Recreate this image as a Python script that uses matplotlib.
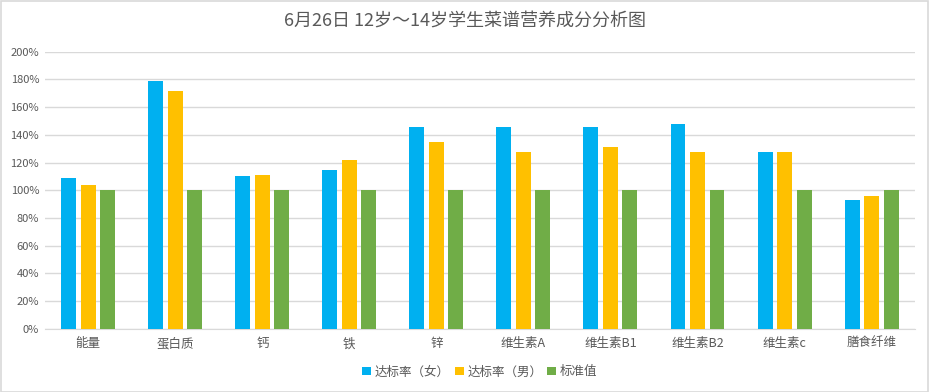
import numpy as np
import matplotlib.pyplot as plt
from matplotlib.patches import Rectangle

plt.rcParams['font.family'] = ['Noto Sans CJK SC', 'DejaVu Sans']

# data (percent of standard)
categories = ['能量', '蛋白质', '钙', '铁', '锌', '维生素A', '维生素B1', '维生素B2', '维生素c', '膳食纤维']
girls = [109, 179, 110, 115, 146, 146, 146, 148, 128, 93]
boys = [104, 172, 111, 122, 135, 128, 131, 128, 128, 96]
standard = [100, 100, 100, 100, 100, 100, 100, 100, 100, 100]
series_names = ['达标率（女）', '达标率（男）', '标准值']
yticks = [0, 20, 40, 60, 80, 100, 120, 140, 160, 180, 200]

colors = ['#00b0f0', '#ffc000', '#70ad47']
text_color = '#595959'
grid_color = '#d9d9d9'

fig = plt.figure(figsize=(9.3, 3.92), dpi=100)
ax = fig.add_axes([0.048, 0.161, 0.936, 0.707])

x = np.arange(len(categories))
width = 0.172
step = 0.224
for k, vals in enumerate([girls, boys, standard]):
    ax.bar(x + (k - 1) * step, vals, width=width, color=colors[k],
           label=series_names[k], zorder=3)

ax.set_xlim(-0.5, len(categories) - 0.5)
ax.set_ylim(0, 200)
ax.set_yticks(yticks)
ax.set_yticklabels([f'{t}%' for t in yticks])
ax.set_xticks(x)
ax.set_xticklabels(categories)

ax.grid(axis='y', color=grid_color, linewidth=1, zorder=0)
for s in ['top', 'right', 'left']:
    ax.spines[s].set_visible(False)
ax.spines['bottom'].set_color(grid_color)
ax.tick_params(axis='both', length=0, colors=text_color, labelsize=8)
ax.tick_params(axis='x', labelsize=9, pad=6)
ax.tick_params(axis='y', pad=4)

fig.text(0.5, 0.945, '6月26日 12岁～14岁学生菜谱营养成分分析图', ha='center', va='center',
         fontsize=13, color=text_color)

leg = ax.legend(loc='center', bbox_to_anchor=(0.5, -0.155), ncol=3, frameon=False,
                fontsize=9, handlelength=0.7, handleheight=0.7, handletextpad=0.3,
                columnspacing=0.4, labelcolor=text_color)

# chart border
fig.patches.append(Rectangle((0.001, 0.001), 0.997, 0.997, transform=fig.transFigure,
                             fill=False, edgecolor=grid_color, linewidth=1.2))

fig.savefig('out.png', dpi=100)
